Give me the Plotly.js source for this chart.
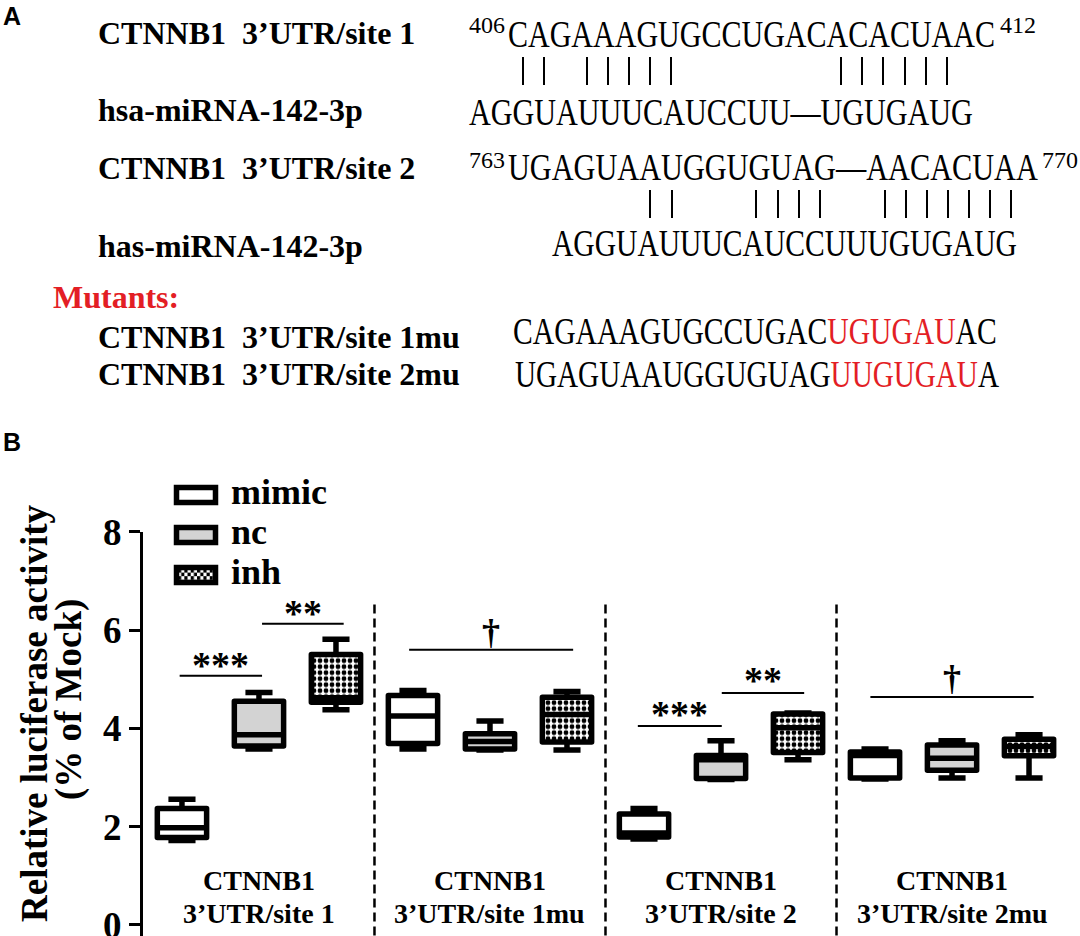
<!DOCTYPE html>
<html>
<head>
<meta charset="utf-8">
<script src="https://cdn.plot.ly/plotly-3.0.1.min.js"></script>
<style>
html,body{margin:0;padding:0;background:#fff;}
#chart{width:1080px;height:936px;}
path.box{stroke-linejoin:round;}
</style>
</head>
<body>
<div id="chart"></div>
<script>
// ---------------- DATA (panel B) ----------------
const groupTop = ["CTNNB1", "CTNNB1", "CTNNB1", "CTNNB1"];
const groupBottom = ["3\u2019UTR/site 1", "3\u2019UTR/site 1mu", "3\u2019UTR/site 2", "3\u2019UTR/site 2mu"];
const seriesNames = ["mimic", "nc", "inh"];

const mimicLow  = [1.72, 3.58, 1.75, 2.97];
const mimicQ1   = [1.78, 3.69, 1.79, 2.99];
const mimicMed  = [1.98, 4.25, 1.87, 3.45];
const mimicQ3   = [2.37, 4.67, 2.26, 3.52];
const mimicHigh = [2.56, 4.77, 2.37, 3.58];

const ncLow  = [3.58, 3.56, 2.96, 2.99];
const ncQ1   = [3.64, 3.58, 2.98, 3.15];
const ncMed  = [3.87, 3.73, 3.36, 3.39];
const ncQ3   = [4.55, 3.89, 3.45, 3.66];
const ncHigh = [4.73, 4.15, 3.75, 3.75];

const inhLow  = [4.38, 3.56, 3.36, 2.99];
const inhQ1   = [4.53, 3.72, 3.51, 3.44];
const inhMed  = [4.62, 4.28, 4.01, 3.63];
const inhQ3   = [5.50, 4.63, 4.29, 3.78];
const inhHigh = [5.81, 4.75, 4.31, 3.87];

// significance marks: label, level (y value), spanning from/to (x units)
const sigLabel = ["***", "**", "\u2020", "***", "**", "\u2020"];
const sigLevel = [5.07, 6.13, 5.60, 4.05, 4.72, 4.64];
const sigFrom  = [-0.03, 1.04, 2.95, 5.92, 7.01, 8.94];
const sigTo    = [1.04, 2.10, 5.08, 7.01, 8.08, 11.06];

// ---------------- PANEL A text ----------------
const labelRows = ["CTNNB1 \u00a03\u2019UTR/site 1", "hsa-miRNA-142-3p", "CTNNB1 \u00a03\u2019UTR/site 2", "has-miRNA-142-3p",
                   "CTNNB1 \u00a03\u2019UTR/site 1mu", "CTNNB1 \u00a03\u2019UTR/site 2mu"];
const seqRows = ["CAGAAAGUGCCUGACACACUAAC", "AGGUAUUUCAUCCUU\u2014UGUGAUG", "UGAGUAAUGGUGUAG\u2014AACACUAA",
                 "AGGUAUUUCAUCCUUUGUGAUG",
                 "CAGAAAGUGCCUGAC<span style='color:#e31e25'>UGUGAU</span>AC",
                 "UGAGUAAUGGUGUAG<span style='color:#e31e25'>UUGUGAU</span>A"];
const seqNumbers = ["406", "412", "763", "770"];

// ---------------- helpers ----------------
const W = 1080, H = 936;
const PX = v => v / W;
const PY = v => 1 - v / H;
const SERIF = "Liberation Serif, Times New Roman, serif";
const RED = "#e31e25";
const pos = s => groupTop.map((_, g) => g * 3 + s);
const BOXW = 0.64;

const data = [];
// checkered body for inh (pattern bar underneath the box outline)
data.push({
  type: "bar", x: pos(2), base: inhQ1, y: inhQ3.map((v, i) => v - inhQ1[i]),
  width: BOXW, showlegend: false, hoverinfo: "skip",
  marker: {color: "#ffffff", line: {width: 0},
           pattern: {shape: ".", fgcolor: "#000000", bgcolor: "#ffffff", size: 6, solidity: 0.5}}
});
const boxSets = [
  [mimicLow, mimicQ1, mimicMed, mimicQ3, mimicHigh, "#ffffff"],
  [ncLow, ncQ1, ncMed, ncQ3, ncHigh, "#d3d3d3"],
  [inhLow, inhQ1, inhMed, inhQ3, inhHigh, "rgba(0,0,0,0)"]
];
boxSets.forEach((b, s) => {
  data.push({
    type: "box", name: seriesNames[s], x: pos(s),
    lowerfence: b[0], q1: b[1], median: b[2], q3: b[3], upperfence: b[4],
    width: BOXW, whiskerwidth: 0.55, fillcolor: b[5],
    line: {color: "#000000", width: 5.5}, boxpoints: false, hoverinfo: "skip", showlegend: false
  });
});

const annotations = [];
const shapes = [];
const squeeze = [];
function addText(o) {
  annotations.push(Object.assign({showarrow: false, xref: "paper", yref: "paper"}, o));
  return annotations.length - 1;
}

// panel letters
addText({text: "A", x: PX(1), y: PY(16), xanchor: "left", yanchor: "middle",
         font: {family: "Liberation Sans, Arial, sans-serif", size: 25, color: "#000", weight: "bold"}});
addText({text: "B", x: PX(1), y: PY(442), xanchor: "left", yanchor: "middle",
         font: {family: "Liberation Sans, Arial, sans-serif", size: 25, color: "#000", weight: "bold"}});

// Panel A labels
const labelY = [33, 110, 168, 246, 337, 374];
labelRows.forEach((t, i) => addText({text: t, x: PX(96), y: PY(labelY[i]), xanchor: "left", yanchor: "middle", align: "left",
  font: {family: SERIF, size: 32, color: "#000", weight: "bold"}}));
addText({text: "Mutants:", x: PX(51), y: PY(297), xanchor: "left", yanchor: "middle", align: "left",
  font: {family: SERIF, size: 32, color: RED, weight: "bold"}});

// sequences (condensed to the measured widths)
const seqX0 = [508, 469, 508, 552, 513, 515];
const seqX1 = [995, 973, 1038, 1017, 997, 999];
const seqY  = [35, 112, 167, 244, 331, 374];
seqRows.forEach((t, i) => {
  const idx = addText({text: t, x: PX(seqX0[i] - 2), y: PY(seqY[i]), xanchor: "left", yanchor: "middle", align: "left",
    font: {family: SERIF, size: 37, color: "#000"}});
  squeeze.push({idx: idx, len: seqX1[i] - seqX0[i]});
});
const numX = [469, 1000, 469, 1042];
const numY = [25, 25, 160, 160];
seqNumbers.forEach((t, i) => addText({text: t, x: PX(numX[i] - 2), y: PY(numY[i]), xanchor: "left", yanchor: "middle", align: "left",
  font: {family: SERIF, size: 24, color: "#000"}}));

// base-pairing bars
const pairRow1 = [523, 544, 587, 608, 629, 650, 671, 841, 862, 883, 905, 926, 947];
const pairRow2 = [650, 672, 756, 778, 799, 820, 885, 906, 927, 948, 969, 990, 1011];
pairRow1.forEach(x => shapes.push({type: "line", xref: "paper", yref: "paper", x0: PX(x), x1: PX(x), y0: PY(57), y1: PY(85),
  line: {color: "#000", width: 2}}));
pairRow2.forEach(x => shapes.push({type: "line", xref: "paper", yref: "paper", x0: PX(x), x1: PX(x), y0: PY(190), y1: PY(218),
  line: {color: "#000", width: 2}}));

// ---------------- PANEL B decorations ----------------
// y-axis title (two lines)
addText({text: "Relative luciferase activity", x: PX(34), y: PY(713), textangle: -90, xanchor: "center", yanchor: "middle",
  font: {family: SERIF, size: 37, color: "#000", weight: "bold"}});
addText({text: "(% of Mock)", x: PX(69), y: PY(700), textangle: -90, xanchor: "center", yanchor: "middle",
  font: {family: SERIF, size: 37, color: "#000", weight: "bold"}});

// legend
const legY = [495, 535, 575];
const legFill = ["#ffffff", "#d3d3d3", "rgba(0,0,0,0)"];
seriesNames.forEach((n, i) => {
  shapes.push({type: "rect", xref: "paper", yref: "paper", x0: PX(176.5), x1: PX(215.5),
    y0: PY(legY[i] - 7.5), y1: PY(legY[i] + 7.5), fillcolor: legFill[i], line: {color: "#000", width: 5.5}, layer: "above"});
  addText({text: n, x: PX(229), y: PY(legY[i] - 3), xanchor: "left", yanchor: "middle", align: "left",
    font: {family: SERIF, size: 36, color: "#000", weight: "bold"}});
});
const checkerSvg = '<svg xmlns="http://www.w3.org/2000/svg" width="34" height="10">' +
  '<defs><pattern id="c" width="6" height="6" patternUnits="userSpaceOnUse">' +
  '<rect width="6" height="6" fill="white"/><rect width="3" height="3" fill="black"/>' +
  '<rect x="3" y="3" width="3" height="3" fill="black"/></pattern></defs>' +
  '<rect width="34" height="10" fill="url(#c)"/></svg>';
const images = [{
  source: "data:image/svg+xml;charset=utf-8," + encodeURIComponent(checkerSvg),
  xref: "paper", yref: "paper", x: PX(178), y: PY(569), sizex: 36 / W, sizey: 12 / H,
  xanchor: "left", yanchor: "top", sizing: "stretch", layer: "above"
}];

// group separators
for (let g = 0; g < groupTop.length - 1; g++) {
  shapes.push({type: "line", xref: "x", yref: "y", x0: g * 3 + 2.5, x1: g * 3 + 2.5, y0: -0.5, y1: 6.61,
    line: {color: "#000", width: 2.5, dash: "9px,5px"}});
}
// group labels
groupTop.forEach((t, g) => {
  addText({text: t, xref: "x", x: g * 3 + 1, y: PY(880), xanchor: "center", yanchor: "middle",
    font: {family: SERIF, size: 28, color: "#000", weight: "bold"}});
  addText({text: groupBottom[g], xref: "x", x: g * 3 + 1, y: PY(913), xanchor: "center", yanchor: "middle",
    font: {family: SERIF, size: 28, color: "#000", weight: "bold"}});
});
// significance
const sigShift = [11, 11, 18, 12, 13, 19];
sigLabel.forEach((t, i) => {
  shapes.push({type: "line", xref: "x", yref: "y", x0: sigFrom[i], x1: sigTo[i], y0: sigLevel[i], y1: sigLevel[i],
    line: {color: "#000", width: 2}});
  addText({text: t, xref: "x", yref: "y", x: (sigFrom[i] + sigTo[i]) / 2, y: sigLevel[i], yshift: sigShift[i],
    xanchor: "center", yanchor: "middle",
    font: {family: SERIF, size: t === "\u2020" ? 36 : 38, color: "#000", weight: "bold"}});
});

const layout = {
  width: W, height: H,
  margin: {l: 0, r: 0, t: 0, b: 0},
  paper_bgcolor: "#ffffff", plot_bgcolor: "rgba(0,0,0,0)",
  showlegend: false,
  boxmode: "overlay",
  xaxis: {domain: [143 / W, 1], range: [-0.506, 11.662], visible: false, fixedrange: true},
  yaxis: {domain: [0, (936 - 531.7) / H], range: [-0.224, 8], tickvals: [0, 2, 4, 6, 8],
    ticks: "outside", ticklen: 11, tickwidth: 3, tickcolor: "#000", ticklabeloverflow: "allow",
    showline: true, linewidth: 3, linecolor: "#000", showgrid: false, zeroline: false,
    tickfont: {family: SERIF, size: 37, color: "#000", weight: "bold"}, fixedrange: true},
  annotations: annotations,
  shapes: shapes,
  images: images
};

const gd = document.getElementById("chart");
Plotly.newPlot(gd, data, layout, {staticPlot: true, displayModeBar: false}).then(function () {
  squeeze.forEach(function (s) {
    const t = gd.querySelector('.annotation[data-index="' + s.idx + '"] text.annotation-text');
    if (t) {
      const nat = t.getComputedTextLength();
      if (!nat) return;
      const k = s.len / nat;
      const x0 = parseFloat(t.getAttribute("x")) || 0;
      const prev = t.getAttribute("transform") || "";
      t.setAttribute("transform", prev + " translate(" + x0 + ",0) scale(" + k + ",1) translate(" + (-x0) + ",0)");
    }
  });
});
</script>
</body>
</html>
